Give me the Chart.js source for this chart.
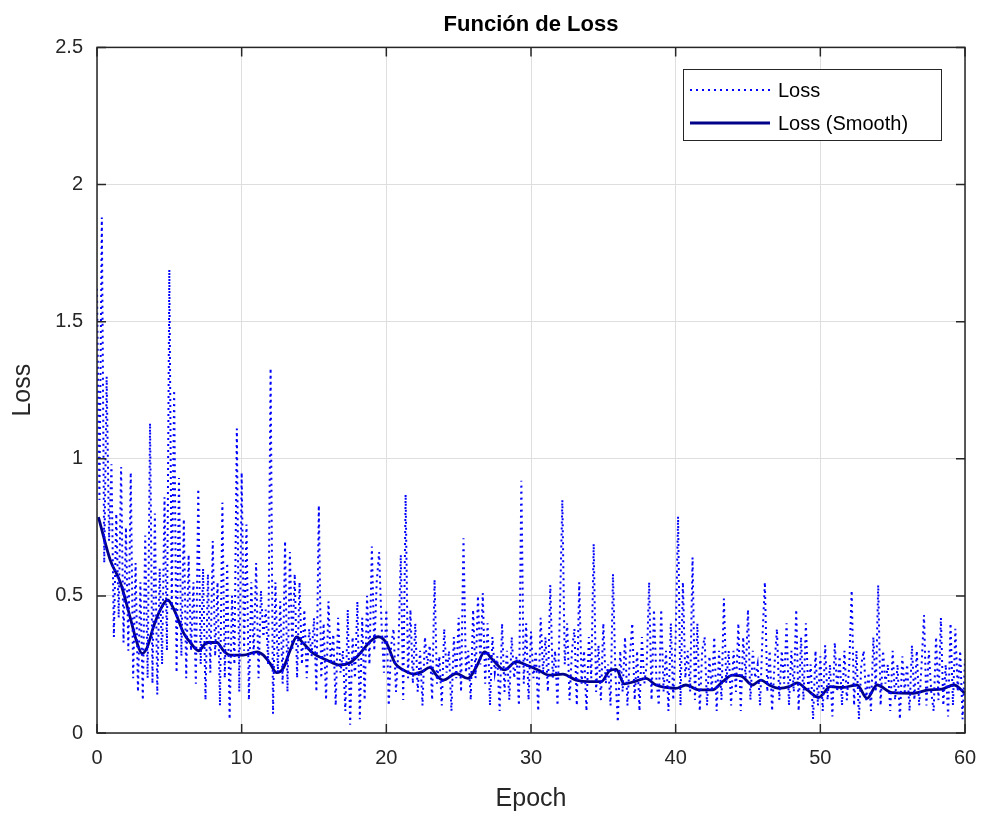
<!DOCTYPE html>
<html lang="es">
<head>
<meta charset="UTF-8">
<title>Función de Loss</title>
<script src="https://cdn.jsdelivr.net/npm/chart.js"></script>
<style>
  body { margin: 0; background: #fff; }
  #wrap { width: 983px; height: 818px; }
</style>
</head>
<body>
<div id="wrap"><canvas id="lossChart" width="983" height="818"></canvas></div>
<script>
// raw loss, 6 iterations per epoch (one row = one epoch)
const lossValues = [
  1.62, 0.85, 1.88, 0.62, 1.30, 0.70,
  0.98, 0.35, 0.80, 0.42, 0.97, 0.33,
  0.75, 0.30, 0.95, 0.20, 0.62, 0.15,
  0.55, 0.12, 0.72, 0.20, 1.13, 0.18,
  0.80, 0.14, 0.60, 0.25, 0.86, 0.30,
  1.69, 0.45, 1.25, 0.22, 0.93, 0.28,
  0.78, 0.20, 0.65, 0.30, 0.55, 0.18,
  0.89, 0.25, 0.60, 0.12, 0.58, 0.22,
  0.70, 0.28, 0.55, 0.10, 0.84, 0.20,
  0.62, 0.05, 0.50, 0.25, 1.11, 0.15,
  0.95, 0.30, 0.76, 0.12, 0.55, 0.28,
  0.62, 0.20, 0.52, 0.35, 0.45, 0.25,
  1.33, 0.07, 0.55, 0.22, 0.48, 0.18,
  0.70, 0.15, 0.66, 0.30, 0.58, 0.20,
  0.55, 0.25, 0.45, 0.20, 0.38, 0.28,
  0.42, 0.15, 0.83, 0.20, 0.40, 0.12,
  0.48, 0.25, 0.36, 0.10, 0.42, 0.22,
  0.30, 0.08, 0.45, 0.03, 0.35, 0.20,
  0.48, 0.05, 0.42, 0.12, 0.50, 0.25,
  0.68, 0.30, 0.55, 0.66, 0.40, 0.22,
  0.45, 0.10, 0.32, 0.38, 0.15, 0.30,
  0.65, 0.12, 0.87, 0.20, 0.45, 0.18,
  0.40, 0.15, 0.30, 0.10, 0.35, 0.25,
  0.32, 0.12, 0.56, 0.18, 0.28, 0.10,
  0.38, 0.22, 0.30, 0.08, 0.35, 0.20,
  0.42, 0.15, 0.71, 0.22, 0.30, 0.12,
  0.45, 0.20, 0.50, 0.25, 0.51, 0.18,
  0.40, 0.10, 0.35, 0.22, 0.28, 0.08,
  0.40, 0.15, 0.30, 0.12, 0.35, 0.20,
  0.28, 0.10, 0.92, 0.18, 0.40, 0.12,
  0.37, 0.20, 0.30, 0.08, 0.42, 0.22,
  0.35, 0.15, 0.54, 0.20, 0.30, 0.10,
  0.45, 0.85, 0.25, 0.40, 0.12, 0.30,
  0.38, 0.10, 0.55, 0.18, 0.30, 0.08,
  0.35, 0.20, 0.69, 0.15, 0.32, 0.12,
  0.40, 0.18, 0.25, 0.10, 0.58, 0.22,
  0.04, 0.30, 0.15, 0.35, 0.10, 0.28,
  0.40, 0.12, 0.30, 0.08, 0.35, 0.18,
  0.25, 0.55, 0.12, 0.45, 0.20, 0.10,
  0.45, 0.15, 0.30, 0.08, 0.40, 0.12,
  0.35, 0.79, 0.10, 0.55, 0.20, 0.30,
  0.15, 0.64, 0.12, 0.40, 0.08, 0.30,
  0.35, 0.10, 0.28, 0.15, 0.35, 0.08,
  0.30, 0.12, 0.49, 0.18, 0.30, 0.10,
  0.30, 0.15, 0.40, 0.08, 0.35, 0.20,
  0.45, 0.12, 0.30, 0.20, 0.25, 0.10,
  0.35, 0.55, 0.15, 0.30, 0.08, 0.25,
  0.38, 0.12, 0.30, 0.18, 0.40, 0.10,
  0.30, 0.15, 0.45, 0.08, 0.35, 0.12,
  0.40, 0.15, 0.25, 0.05, 0.30, 0.10,
  0.28, 0.08, 0.32, 0.12, 0.25, 0.06,
  0.33, 0.15, 0.28, 0.10, 0.30, 0.12,
  0.25, 0.52, 0.10, 0.30, 0.05, 0.25,
  0.30, 0.12, 0.22, 0.08, 0.35, 0.15,
  0.54, 0.10, 0.30, 0.18, 0.25, 0.08,
  0.30, 0.12, 0.25, 0.05, 0.28, 0.15,
  0.25, 0.08, 0.32, 0.12, 0.30, 0.10,
  0.25, 0.43, 0.10, 0.30, 0.15, 0.08,
  0.35, 0.12, 0.42, 0.10, 0.25, 0.06,
  0.40, 0.10, 0.38, 0.15, 0.30, 0.05,
  0.27
];
const itersPerEpoch = 6;

// smoothed loss, read at these epochs
const smoothEpochs = [
  0.1, 0.92, 1.61, 2.3, 2.76, 3.11, 3.45, 3.92, 4.38, 4.88, 5.41, 5.99, 6.45, 7.02, 7.6, 8.29, 8.75, 9.21,
  10.1, 11.06, 11.5, 11.96, 12.42, 12.87, 13.34, 13.8, 14.26, 14.95, 15.87, 16.79, 17.48, 18.18, 18.87, 19.44,
  20.02, 20.6, 21.17, 21.86, 22.44, 23.01, 23.47, 23.93, 24.83, 25.64, 26.21, 26.79, 27.37, 28.17, 28.98, 29.67,
  30.48, 31.28, 32.2, 33.12, 34.05, 34.85, 35.43, 35.89, 36.44, 37.13, 37.94, 38.63, 39.32, 40.01, 40.7, 41.62,
  42.55, 43.24, 43.93, 44.62, 45.31, 45.89, 46.46, 47.15, 47.84, 48.4, 49.09, 49.89, 50.7, 51.5, 52.54, 53.23,
  53.92, 54.96, 56.34, 57.5, 58.42, 59.23, 60
];
const smoothValues = [
  0.787, 0.63, 0.55, 0.42, 0.33, 0.29, 0.31, 0.39, 0.45, 0.485, 0.44, 0.364, 0.33, 0.30, 0.33, 0.33, 0.30, 0.284,
  0.284, 0.296, 0.284, 0.254, 0.22, 0.236, 0.30, 0.35, 0.327, 0.29, 0.266, 0.248, 0.256, 0.29, 0.333, 0.351,
  0.327, 0.254, 0.23, 0.215, 0.223, 0.239, 0.21, 0.193, 0.217, 0.199, 0.24, 0.296, 0.266, 0.23, 0.26, 0.248,
  0.23, 0.211, 0.215, 0.193, 0.187, 0.187, 0.227, 0.232, 0.179, 0.187, 0.199, 0.175, 0.166, 0.163, 0.175, 0.157,
  0.157, 0.187, 0.211, 0.205, 0.175, 0.193, 0.175, 0.163, 0.169, 0.183, 0.157, 0.13, 0.169, 0.166, 0.175, 0.126,
  0.175, 0.147, 0.145, 0.157, 0.16, 0.175, 0.145
];

const xTicks = [0, 10, 20, 30, 40, 50, 60];
const yTicks = [0, 0.5, 1, 1.5, 2, 2.5];
const yTickLabels = ['0', '0.5', '1', '1.5', '2', '2.5'];

const fontFamily = '"Liberation Sans", Arial, Helvetica, sans-serif';
const axisColor = '#262626';
const rawColor = '#0000ff';
const smoothColor = '#000088';

const rawPoints = lossValues.map((v, i) => ({ x: i / itersPerEpoch, y: v }));
const smoothPoints = smoothValues.map((v, i) => ({ x: smoothEpochs[i], y: v }));

// MATLAB-ish box: frame, inward ticks, legend
const boxPlugin = {
  id: 'boxPlugin',
  afterDraw(chart) {
    const ctx = chart.ctx;
    const a = chart.chartArea;
    const xs = chart.scales.x, ys = chart.scales.y;
    const tl = 9;
    ctx.save();
    ctx.strokeStyle = axisColor;
    ctx.lineWidth = 1.5;
    ctx.strokeRect(a.left, a.top, a.right - a.left, a.bottom - a.top);
    ctx.beginPath();
    xTicks.forEach(t => {
      const px = xs.getPixelForValue(t);
      ctx.moveTo(px, a.bottom); ctx.lineTo(px, a.bottom - tl);
      ctx.moveTo(px, a.top); ctx.lineTo(px, a.top + tl);
    });
    yTicks.forEach(t => {
      const py = ys.getPixelForValue(t);
      ctx.moveTo(a.left, py); ctx.lineTo(a.left + tl, py);
      ctx.moveTo(a.right, py); ctx.lineTo(a.right - tl, py);
    });
    ctx.stroke();

    // legend
    const lx = 683, ly = 69, lw = 258, lh = 71;
    ctx.fillStyle = '#fff';
    ctx.fillRect(lx, ly, lw, lh);
    ctx.lineWidth = 1;
    ctx.strokeStyle = axisColor;
    ctx.strokeRect(lx + 0.5, ly + 0.5, lw, lh);
    chart.data.datasets.forEach((ds, i) => {
      const y = ly + 21 + i * 33;
      ctx.beginPath();
      ctx.strokeStyle = ds.borderColor;
      ctx.lineWidth = ds.borderWidth;
      ctx.setLineDash(ds.borderDash || []);
      ctx.moveTo(lx + 7, y);
      ctx.lineTo(lx + 87, y);
      ctx.stroke();
      ctx.setLineDash([]);
      ctx.fillStyle = '#000';
      ctx.font = '20px ' + fontFamily;
      ctx.textBaseline = 'middle';
      ctx.textAlign = 'left';
      ctx.fillText(ds.label, lx + 95, y + 1);
    });
    ctx.restore();
  }
};

new Chart(document.getElementById('lossChart'), {
  type: 'line',
  data: {
    datasets: [
      {
        label: 'Loss',
        data: rawPoints,
        borderColor: rawColor,
        borderWidth: 2,
        borderDash: [2, 4],
        pointRadius: 0,
        tension: 0
      },
      {
        label: 'Loss (Smooth)',
        data: smoothPoints,
        borderColor: smoothColor,
        borderWidth: 2.8,
        pointRadius: 0,
        cubicInterpolationMode: 'monotone'
      }
    ]
  },
  options: {
    responsive: false,
    animation: false,
    layout: { padding: { right: 18, left: 0, bottom: 0, top: 0 } },
    plugins: {
      legend: { display: false },
      tooltip: { enabled: false },
      title: {
        display: true,
        text: 'Función de Loss',
        fullSize: false,
        color: '#000',
        font: { family: fontFamily, size: 22, weight: 'bold' },
        padding: { top: 12, bottom: 9 }
      }
    },
    scales: {
      x: {
        type: 'linear',
        min: 0,
        max: 60,
        afterFit: s => { s.height = 85; s.paddingRight = 0; s.paddingLeft = 0; },
        afterBuildTicks: s => { s.ticks = xTicks.map(v => ({ value: v })); },
        ticks: { color: axisColor, font: { family: fontFamily, size: 20 }, padding: 13, maxRotation: 0 },
        grid: { color: '#dedede', lineWidth: 1, drawTicks: false },
        border: { display: false },
        title: { display: true, text: 'Epoch', color: axisColor, font: { family: fontFamily, size: 25 }, padding: { top: 0, bottom: 4 } }
      },
      y: {
        type: 'linear',
        min: 0,
        max: 2.5,
        afterFit: s => { s.width = 97; s.paddingTop = 0; s.paddingBottom = 0; },
        afterBuildTicks: s => { s.ticks = yTicks.map(v => ({ value: v })); },
        ticks: {
          color: axisColor,
          font: { family: fontFamily, size: 20 },
          padding: 14,
          callback: v => yTickLabels[yTicks.indexOf(v)]
        },
        grid: { color: '#dedede', lineWidth: 1, drawTicks: false },
        border: { display: false },
        title: { display: true, text: 'Loss', color: axisColor, font: { family: fontFamily, size: 25 }, padding: { top: 8, bottom: 0 } }
      }
    }
  },
  plugins: [boxPlugin]
});
</script>
</body>
</html>
